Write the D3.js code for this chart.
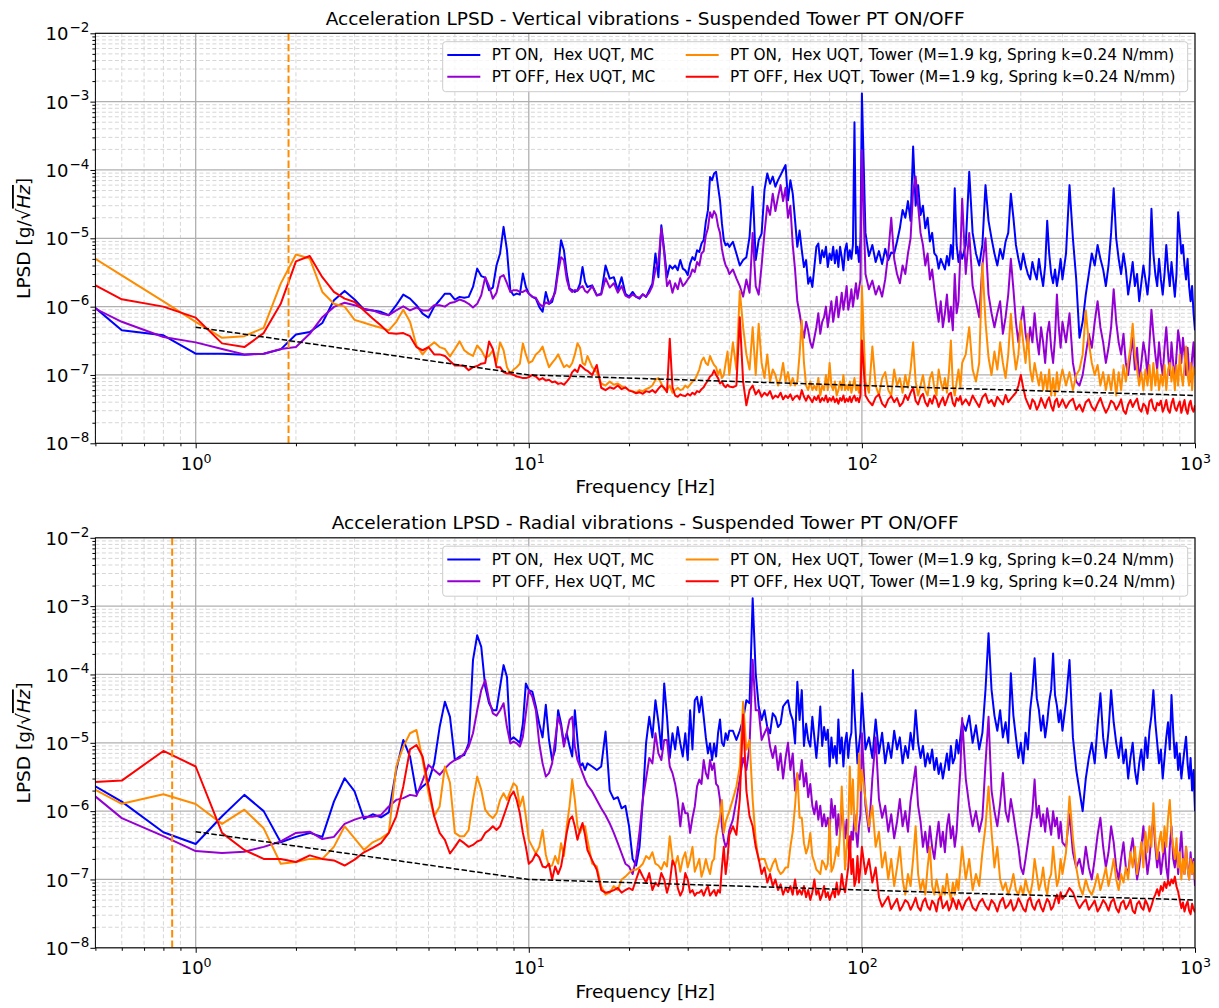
<!DOCTYPE html>
<html lang="en">
<head>
<meta charset="UTF-8">
<title>Acceleration LPSD - Suspended Tower PT ON/OFF</title>
<script src="https://d3js.org/d3.v7.min.js"></script>
<style>
  body { margin: 0; background: #fff; }
  text { font-family: "DejaVu Sans", sans-serif; }
</style>
</head>
<body>
<svg id="chart" width="1219" height="1008"></svg>
<script>
// Frequency grid of the spectra: block i starts at segStart[i] Hz with spacing segStep[i] Hz
const segStart = [0.4, 10.25, 15.5, 41, 102.5, 205, 410];
const segStep  = [0.2, 0.25, 0.5, 1, 2.5, 5, 10];

// LPSD values in ug/sqrt(Hz) (x1e-6 g/sqrt(Hz)), one sub-array per frequency block
// --- Vertical vibrations ---
const vertOnMC = [
  [2.4,0.45,0.38,0.205, 0.205,0.198,0.205,0.237,0.39, 0.425,0.575,1.24,1.7,1.27, 0.91,0.88,0.84,0.75,1.05, 1.5,1.31,1.05,0.79,0.69, 1.0,1.24,1.55,1.55,1.27, 1.39,1.35,1.39,1.94,3.6, 2.8,2.66,1.74,1.9,4.0, 6.0,14.7,6.7,1.74,1.47, 1.55,1.5,3.05,1.94,1.55],
  [1.39,1.31,0.99,0.84,1.64, 1.1,1.17,1.74,3.8,9.4, 6.7,3.05,1.84,1.74,1.64, 1.74,2.17,3.8,2.3,1.94],
  [2.05,1.47,1.55,4.0,2.57, 2.7,1.74,2.7,1.55,1.39, 1.64,1.39,1.31,1.52,1.39, 1.74,2.17,6.0,2.7,15.5, 6.7,2.7,4.0,3.6,4.0, 3.4,4.8,3.6,3.4,2.9, 4.3,5.3,4.8,6.7,6.3, 8.4,9.4,17.4,25.8,79, 71,89,94,57,36, 16.5,9.4,7.9,8.4,7.5],
  [8.9,6.0,4.0,4.8,5.3, 10.5,57,4.8,9.4,11.7, 51,89,63,80,57, 71,84,100,118,36, 71,45,18.5,7.5,13, 6.7,3.8,4.8,2.17,2.7, 1.94,3.8,7.5,8.4,4.3, 6.7,5.3,7.5,3.8,6.0, 4.8,7.5,4.3,6.7,3.8, 7.5,5.3,3.4,6.7,8.4, 4.8,6.7,5.0,8.0,500, 6.0,7.5,4.5,9,1320],
  [12,5.5,8,4.5,6.5, 4.2,7,4.8,6.2,6, 9,14,26,20,35, 18,220,30,60,22, 30,14,20,9,12, 6,5.5,3.6,5,4.2, 3.5,5.5,4,8,5, 54,8,4.5,6.5,5],
  [8,94,12,6,4, 8,60,18,10,6, 4,7,5,9,12, 45,20,8,5,3.5, 6,4,3,2.5,4.5, 3.2,2.5,5,3,2, 4,18,6,3,2.2, 3.5,2,3,5,2.5],
  [6,60,10,2.5,0.35, 0.6,1.5,3,6,4, 8,5,3.5,2,4, 12,54,10,5,3, 6,3.5,1.5,2.5,4.5, 2,3,1.2,2.2,4, 2.5,1.5,3,27,6, 3,2,5,2.5,1.5, 3,8,3.5,2,4.5, 2.5,1.4,3,24,12, 6,8,4,2.5,5, 2,1.2,2,0.8,0.45]
];
const vertOffMC = [
  [1.6,0.6,0.36,0.3, 0.24,0.2,0.205,0.24,0.256, 0.4,0.7,0.99,1.14,1.05, 0.93,0.88,0.79,0.75,0.88, 1.01,0.88,0.97,0.88,0.88, 1.05,1.05,1.0,1.13,1.17, 1.27,1.2,1.1,0.97,1.1, 1.47,2.7,2.0,1.31,1.6, 2.7,2.9,2.2,1.64,1.74, 1.74,1.64,1.64,1.74,1.55],
  [1.39,1.35,1.1,1.0,1.15, 1.1,1.3,1.6,3.2,5.3, 4.8,2.5,1.8,1.64,1.75, 1.7,1.9,2.0,1.7,1.6],
  [2.0,1.45,1.5,2.6,1.9, 2.2,1.6,2.0,1.45,1.35, 1.5,1.4,1.35,1.5,1.4, 1.6,2.0,3.5,4.5,14, 6,2.0,2.4,1.6,2.2, 1.8,2.6,2.0,2.2,2.5, 2.8,3.5,3.2,4.5,4.0, 6.0,6.5,11,14,24, 20,25,22,15,12, 7,5,4,3.6,3.0],
  [3.5,2.6,2.0,1.4,2.5, 1.6,12,2.0,1.5,4.0, 12,30,22,45,25, 40,60,35,55,20, 30,8,3.5,1.2,0.8, 0.5,0.35,0.6,0.45,0.3, 0.25,0.35,0.5,0.8,0.4, 0.6,0.7,1.0,0.5,0.8, 1.2,0.6,0.9,1.4,0.7, 1.0,1.6,0.9,1.3,2.0, 0.9,1.2,1.8,1.0,1.5, 2.2,1.3,1.8,2.5,195],
  [3.0,1.8,2.4,1.5,2.0, 1.4,2.5,6,20,5, 3,2.2,4,3,6, 10,50,80,30,12, 8,4,6,2.5,3.5, 1.8,1.0,0.6,1.2,0.5, 0.8,1.5,0.6,1.0,0.45, 3,0.8,1.2,6,38],
  [3,12,2,1.2,0.7, 4,10,1.5,0.8,0.5, 0.8,1.2,0.4,0.7,1.5, 5,1.8,0.6,0.3,0.6, 1.0,0.4,0.25,0.5,0.3, 0.8,0.35,0.2,0.5,0.3, 0.15,0.4,0.6,0.25,0.15, 0.35,1.5,0.5,0.25,0.6],
  [0.3,0.8,0.15,0.08,0.07, 0.1,0.2,0.4,0.25,0.6, 1.2,0.5,0.3,0.15,0.25, 0.5,1.8,0.6,0.3,0.2, 0.4,0.15,0.1,0.2,0.35, 0.12,0.25,0.08,0.15,0.3, 0.2,0.1,0.3,0.9,0.4, 0.2,0.12,0.3,0.15,0.1, 0.25,0.5,0.2,0.1,0.3, 0.15,0.08,0.2,0.45,0.3, 0.15,0.35,0.2,0.1,0.25, 0.12,0.08,0.18,0.3,0.1]
];
const vertOnTower = [
  [9.9,2.87,1.19,0.6, 0.35,0.37,0.49,2.17,5.8, 5.06,1.64,1.1,1.0,0.64, 0.58,0.53,0.49,0.45,0.6, 0.9,0.6,0.27,0.2,0.256, 0.3,0.256,0.24,0.187,0.24, 0.31,0.23,0.205,0.19,0.27, 0.23,0.18,0.19,0.23,0.15, 0.3,0.23,0.13,0.105,0.12, 0.13,0.146,0.29,0.2,0.15],
  [0.16,0.2,0.22,0.26,0.18, 0.13,0.15,0.17,0.2,0.16, 0.13,0.14,0.13,0.15,0.2, 0.29,0.25,0.15,0.14,0.19],
  [0.13,0.11,0.075,0.07,0.08, 0.072,0.075,0.068,0.065,0.06, 0.058,0.055,0.06,0.058,0.062, 0.065,0.07,0.085,0.09,0.075, 0.062,0.06,0.07,0.055,0.06, 0.065,0.06,0.062,0.07,0.065, 0.072,0.08,0.085,0.1,0.12, 0.16,0.18,0.15,0.14,0.19, 0.16,0.14,0.13,0.1,0.12, 0.09,0.1,0.15,0.22,0.1],
  [0.3,0.12,1.7,0.5,0.2, 0.12,0.5,0.1,0.56,0.15, 0.09,0.2,0.08,0.12,0.1, 0.07,0.09,0.15,0.08,0.11, 0.07,0.09,0.07,0.08,0.2, 0.63,0.15,0.07,0.06,0.08, 0.06,0.07,0.06,0.09,0.05, 0.07,0.06,0.1,0.06,0.15, 0.07,0.06,0.08,0.05,0.06, 0.08,0.06,0.1,0.06,0.07, 0.06,0.08,0.055,0.07,0.09, 0.06,0.07,0.055,0.08,2.0],
  [0.08,0.055,0.26,0.07,0.05, 0.09,0.11,0.06,0.05,0.12, 0.07,0.09,0.055,0.1,0.065, 0.12,0.3,0.08,0.05,0.07, 0.1,0.06,0.05,0.09,0.11, 0.065,0.05,0.12,0.08,0.06, 0.09,0.055,0.11,0.32,0.07, 0.05,0.08,0.12,0.065,0.15],
  [0.2,0.5,0.12,0.08,0.15, 4.3,0.6,0.18,0.1,0.22, 0.12,0.3,0.15,0.09,0.2, 0.79,0.25,0.12,0.2,0.63, 0.3,0.15,0.4,0.12,0.08, 0.15,0.1,0.07,0.11,0.06, 0.1,0.06,0.12,0.05,0.09, 0.05,0.11,0.06,0.09,0.12],
  [0.07,0.11,0.06,0.1,0.12, 0.2,0.88,0.3,0.15,0.1, 0.14,0.07,0.11,0.06,0.1, 0.06,0.12,0.05,0.11,0.06, 0.14,0.08,0.15,0.25,0.56, 0.2,0.12,0.07,0.11,0.06, 0.12,0.07,0.14,0.06,0.15, 0.07,0.12,0.06,0.1,0.07, 0.14,0.06,0.12,0.15,0.08, 0.13,0.06,0.14,0.07,0.2, 0.1,0.07,0.14,0.26,0.1, 0.07,0.15,0.06,0.13,0.1]
];
const vertOffTower = [
  [3.65,1.28,1.0,0.69, 0.29,0.256,0.41,1.1,4.6, 5.5,2.7,1.64,1.31,1.17, 0.88,0.67,0.53,0.41,0.4, 0.41,0.37,0.256,0.23,0.256, 0.2,0.2,0.19,0.16,0.138, 0.138,0.135,0.117,0.13,0.135, 0.146,0.15,0.31,0.24,0.13, 0.13,0.11,0.105,0.105,0.1, 0.095,0.093,0.09,0.09,0.093],
  [0.1,0.095,0.085,0.09,0.083, 0.085,0.078,0.08,0.074,0.076, 0.072,0.08,0.09,0.11,0.12, 0.11,0.14,0.13,0.12,0.115],
  [0.1,0.14,0.065,0.06,0.066, 0.063,0.07,0.062,0.066,0.059, 0.057,0.054,0.056,0.053,0.058, 0.056,0.06,0.055,0.063,0.07, 0.065,0.056,0.34,0.066,0.05, 0.048,0.052,0.05,0.049,0.053, 0.05,0.055,0.052,0.058,0.056, 0.062,0.066,0.075,0.083,0.095, 0.1,0.117,0.1,0.09,0.075, 0.08,0.07,0.066,0.072,0.068],
  [0.066,0.07,0.7,0.08,0.036, 0.06,0.07,0.052,0.06,0.048, 0.055,0.05,0.058,0.045,0.05, 0.047,0.055,0.044,0.05,0.046, 0.052,0.043,0.048,0.05,0.044, 0.06,0.048,0.042,0.05,0.045, 0.04,0.048,0.043,0.05,0.04, 0.046,0.042,0.05,0.04,0.046, 0.042,0.048,0.04,0.045,0.038, 0.046,0.042,0.05,0.04,0.045, 0.041,0.048,0.04,0.046,0.05, 0.042,0.046,0.04,0.05,0.32],
  [0.05,0.041,0.036,0.047,0.052, 0.038,0.034,0.044,0.049,0.04, 0.046,0.035,0.039,0.051,0.043, 0.055,0.065,0.042,0.037,0.048, 0.053,0.04,0.035,0.045,0.038, 0.05,0.044,0.034,0.041,0.047, 0.036,0.043,0.052,0.055,0.039, 0.035,0.046,0.042,0.049,0.037],
  [0.044,0.036,0.05,0.041,0.034, 0.047,0.053,0.039,0.043,0.035, 0.048,0.042,0.037,0.051,0.04, 0.045,0.05,0.055,0.07,0.1, 0.065,0.046,0.038,0.032,0.044, 0.04,0.031,0.036,0.046,0.039, 0.033,0.042,0.047,0.035,0.03, 0.041,0.045,0.034,0.038,0.044],
  [0.033,0.041,0.045,0.031,0.037, 0.029,0.04,0.044,0.034,0.03, 0.038,0.046,0.035,0.028,0.033, 0.042,0.039,0.031,0.036,0.044, 0.03,0.027,0.037,0.043,0.034, 0.04,0.045,0.032,0.029,0.038, 0.035,0.027,0.041,0.044,0.033, 0.03,0.039,0.036,0.042,0.029, 0.034,0.043,0.031,0.028,0.038, 0.045,0.033,0.03,0.036,0.041, 0.028,0.035,0.043,0.031,0.027, 0.037,0.042,0.032,0.029,0.036]
];

// --- Radial vibrations ---
const radOnMC = [
  [4.3,1.38,0.49,0.33, 0.84,1.73,1.0,0.35,0.42, 0.48,0.42,1.38,3.03,1.94, 0.77,0.9,0.81,0.96,4.0, 11,6.3,1.83,2.3,2.7, 5.0,17,40,24,5.6, 6.3,6.6,9.8,162,375, 254,66,38,30,30, 66,137,92,11,12, 11,10,19,74,59],
  [56,34,19,12,36, 11,5.6,7.9,30,19, 9.8,13.8,9,6.3,30, 11,4.5,5.0,4.0,5.0],
  [4.5,4.0,4.5,14.6,2.0, 1.5,1.6,1.1,1.2,0.6, 0.2,0.16,0.3,1.5,10, 24,12,42,20,8, 74,24,6,13.8,8, 17,9.8,6.3,13.8,5.6, 30,8,42,47,28, 47,24,12,7,9.8, 5.6,9.8,6.3,13.8,22, 10,9,13.8,11,15],
  [15,11,15,22,42, 38,1300,104,34,21.6, 30,17,13.8,27,24, 17,19,34,38,42, 27,21.6,9.8,78,21.6, 59,9,19,11,8.8, 24,12,6,13,34, 9,17,11,15.5,4.5, 12,6,9,5,22, 7,12,4.5,10,14, 6,11,14,116,30, 12,5,9,14,53],
  [8,12,6,22,7, 14,5,10,6,15, 8,12,5,9,6, 14,8,30,10,6, 9,4.5,7,5,8, 4,6,3.5,5,3, 4.5,7,4,9,5, 6,11,7,12,20],
  [15,25,10,18,8, 14,60,400,60,25, 15,30,12,20,10, 104,25,12,6,10, 5,14,8,30,60, 172,45,30,15,25, 12,20,40,60,203, 50,35,20,30,15],
  [40,163,12,4,2.0, 1.0,3,6,10,5, 18,53,12,6,15, 59,20,10,6,12, 5,8,3,6,10, 4,2.5,5,8,4, 12,6,15,25,59, 20,10,5,8,3, 6,12,20,8,50, 15,6,10,4,7, 3,5,8,12.3,5, 3,6,2,4,1.0]
];
const radOffMC = [
  [4.0,0.79,0.43,0.26, 0.243,0.255,0.3,0.36,0.48, 0.5,0.39,0.42,0.65,0.75, 0.83,0.83,0.88,1.17,1.46, 1.55,1.73,1.67,2.8,4.75, 4.0,3.4,4.2,5.0,5.6, 6.0,7.0,8.8,13.8,30, 59,83,42,27,25, 30,38,17,9.8,10.4, 9.8,8.8,12.3,27,59],
  [47,30,9.8,5.0,3.2, 3.6,5.0,11,24,17, 8.8,13.8,21.6,24,8.8, 5.6,4.5,3.6,2.9,2.4],
  [1.94,1.46,1.1,0.87,0.66, 0.48,0.34,0.24,0.17,0.155, 0.12,0.2,0.5,1.5,3, 6,5,13.8,7,5.6, 11,11,4.5,3.6,2.5, 1.46,0.6,1.3,0.93,0.93, 0.48,0.8,1.17,2.3,2.9, 2.5,5.6,3.6,3.0,5.6, 4.0,5.0,2.5,2.3,1.46, 0.6,0.38,0.3,0.35,0.53],
  [0.75,1.46,3,6,4, 9,164,30,30,11, 13.8,17,8.8,6,9, 4,7,3,6,10, 4,7,2,3.5,2.9, 5.6,2.3,3.6,1.6,2.5, 1.2,0.9,1.4,0.75,1.2, 0.6,0.9,0.6,0.8,0.5, 1.5,0.8,1.2,0.45,0.9, 0.5,1.2,0.7,0.4,0.75, 0.3,0.24,0.5,0.38,0.9, 0.5,0.3,0.6,0.9,13.8],
  [1.2,0.5,3,12,1.5, 0.8,1.2,0.5,0.9,0.4, 0.7,1.5,0.6,1.0,0.5, 1.4,2.5,4.5,1.2,0.7, 0.3,0.5,0.25,0.6,0.3, 0.2,0.4,0.7,0.3,0.5, 0.25,0.6,0.9,0.4,0.6, 0.3,0.5,1.5,4,23],
  [3,1.2,0.6,1.0,0.5, 0.8,5,24,2,1.0, 0.6,1.3,3.6,1.0,0.7, 1.5,0.9,0.5,0.3,0.15, 0.12,0.2,0.35,0.6,1.0, 2.9,0.8,1.2,0.6,0.9, 0.5,1.1,0.7,0.45,1.0, 0.6,0.8,0.4,0.7,0.35],
  [0.3,0.9,0.25,0.15,0.2, 0.12,0.3,0.15,0.1,0.2, 0.45,0.8,0.3,0.15,0.25, 0.6,0.35,0.15,0.1,0.2, 0.35,0.15,0.12,0.25,0.4, 0.2,0.1,0.15,0.3,0.6, 0.25,0.12,0.2,0.45,0.8, 0.3,0.15,0.25,0.12,0.2, 0.35,0.15,0.1,0.3,0.6, 0.2,0.15,0.3,0.12,0.25, 0.5,0.2,0.12,0.3,0.15, 0.1,0.25,0.12,0.2,0.08]
];
const radOnTower = [
  [3.65,1.28,1.77,1.27, 0.65,1.05,0.56,0.17,0.18, 0.2,0.2,0.3,0.6,0.4, 0.27,0.35,0.4,0.48,4.5, 8.8,13.8,15.4,5.6,1.83, 0.84,1.17,4.5,2.6,0.48, 0.43,0.43,0.53,1.46,3.2, 2.05,1.05,0.88,0.79,0.93, 1.46,1.83,1.46,1.94,2.56, 2.3,1.17,1.64,0.84,0.38],
  [0.3,0.24,0.3,0.53,0.23, 0.155,0.16,0.22,0.17,0.34, 0.22,0.6,1.17,2.9,1.46, 0.6,0.48,0.6,0.6,0.38],
  [0.17,0.155,0.08,0.06,0.064, 0.08,0.07,0.1,0.11,0.124, 0.139,0.139,0.15,0.17,0.22, 0.2,0.25,0.17,0.16,0.14, 0.18,0.155,0.43,0.2,0.16, 0.22,0.13,0.2,0.25,0.15, 0.2,0.3,0.13,0.16,0.2, 0.11,0.14,0.2,0.15,0.12, 0.18,0.2,0.43,0.6,0.84, 1.46,0.48,0.7,0.84,1.0],
  [1.5,2.3,4.5,40,7.9, 11,1.46,0.38,0.19,0.2, 0.2,0.15,0.13,0.17,0.2, 0.14,0.12,0.13,0.15,0.15, 0.3,0.5,1.2,3.6,0.8, 0.8,0.34,0.24,0.3,0.48, 0.22,0.18,0.14,0.13,0.12, 0.19,0.17,0.14,0.17,0.75, 0.13,0.15,0.2,0.3,0.22, 0.48,2.3,0.6,0.14,0.3, 0.6,4.5,0.9,2.9,0.7, 0.5,1.2,7.0,2.0,4.0],
  [1.5,0.6,1.2,0.3,0.5, 0.15,0.25,0.1,0.2,0.08, 0.15,0.3,0.1,0.06,0.12, 0.08,0.2,0.6,0.12,0.07, 0.1,0.06,0.15,0.3,0.08, 0.06,0.1,0.07,0.05,0.08, 0.06,0.12,0.07,0.05,0.09, 0.06,0.1,0.07,0.15,0.3],
  [0.1,0.2,0.07,0.12,0.08, 0.25,0.6,2.3,0.5,0.15, 0.3,0.1,0.07,0.09,0.06, 0.08,0.12,0.07,0.06,0.08, 0.06,0.1,0.07,0.06,0.09, 0.2,0.12,0.07,0.09,0.15, 0.08,0.06,0.1,0.12,0.3, 0.15,0.08,0.1,0.2,0.12],
  [0.25,1.64,0.4,0.15,0.08, 0.06,0.1,0.07,0.06,0.08, 0.12,0.07,0.1,0.15,0.08, 0.12,0.2,0.1,0.07,0.12, 0.09,0.15,0.1,0.25,0.15, 0.3,0.12,0.2,0.35,0.15, 0.5,0.25,0.6,0.3,1.3, 0.4,0.2,0.35,0.5,0.25, 0.6,0.3,0.8,1.46,0.5, 0.3,0.2,0.4,0.15,0.25, 0.1,0.2,0.12,0.3,0.15, 0.1,0.2,0.12,0.18,0.1]
];
const radOffTower = [
  [2.5,2.8,7.6,4.5, 0.48,0.27,0.2,0.2,0.18, 0.225,0.2,0.19,0.16,0.195, 0.25,0.29,0.34,0.48,0.84, 2.3,8.0,9.3,6.3,2.3, 0.84,0.48,0.38,0.24,0.3, 0.38,0.34,0.3,0.32,0.36, 0.38,0.48,0.53,0.6,0.53, 0.6,0.84,1.17,1.64,1.94, 1.46,0.93,0.48,0.3,0.17],
  [0.19,0.24,0.21,0.155,0.15, 0.17,0.1,0.155,0.12,0.155, 0.27,0.48,0.75,0.84,0.6, 0.38,0.53,0.67,0.45,0.27],
  [0.19,0.139,0.07,0.064,0.066, 0.07,0.075,0.064,0.07,0.075, 0.07,0.1,0.139,0.11,0.09, 0.124,0.07,0.09,0.08,0.124, 0.1,0.064,0.09,0.19,0.155, 0.075,0.058,0.07,0.124,0.1, 0.064,0.07,0.058,0.064,0.064, 0.07,0.058,0.07,0.08,0.058, 0.064,0.07,0.058,0.07,0.064, 0.15,0.3,0.12,0.2,0.45],
  [0.6,0.45,1.5,26,2.0, 0.84,0.6,0.3,0.2,0.12, 0.15,0.09,0.12,0.08,0.1, 0.07,0.085,0.06,0.075,0.065, 0.08,0.06,0.1,0.06,0.07, 0.06,0.08,0.055,0.07,0.05, 0.065,0.1,0.06,0.07,0.05, 0.06,0.08,0.055,0.065,0.05, 0.06,0.07,0.055,0.09,0.06, 0.07,0.12,0.08,0.065,0.1, 0.15,0.43,0.12,0.2,0.08, 0.1,0.22,0.09,0.15,0.3],
  [0.12,0.2,0.09,0.15,0.055, 0.04,0.048,0.056,0.037,0.044, 0.052,0.035,0.041,0.05,0.046, 0.036,0.043,0.054,0.039,0.035, 0.047,0.053,0.04,0.036,0.049, 0.044,0.034,0.051,0.056,0.038, 0.042,0.048,0.035,0.04,0.053, 0.045,0.037,0.05,0.043,0.036],
  [0.048,0.055,0.039,0.035,0.046, 0.052,0.041,0.036,0.05,0.044, 0.034,0.047,0.054,0.038,0.042, 0.05,0.035,0.04,0.053,0.045, 0.037,0.034,0.049,0.055,0.041, 0.036,0.046,0.051,0.039,0.034, 0.043,0.052,0.047,0.036,0.04, 0.05,0.06,0.045,0.065,0.052],
  [0.06,0.075,0.065,0.048,0.038, 0.045,0.051,0.036,0.042,0.049, 0.034,0.04,0.05,0.044,0.035, 0.047,0.052,0.038,0.033,0.045, 0.049,0.037,0.042,0.051,0.035, 0.032,0.044,0.048,0.039,0.036, 0.05,0.043,0.034,0.041,0.052, 0.06,0.072,0.058,0.08,0.068, 0.092,0.075,0.097,0.082,0.1, 0.088,0.11,0.079,0.066,0.05, 0.038,0.046,0.034,0.042,0.048, 0.035,0.031,0.044,0.037,0.033]
];

// noise floor reference (dashed black), ug/sqrt(Hz)
const floorFreq = [1, 10, 100, 1000];
const floorLPSD = [0.5, 0.1, 0.07, 0.05];

// suspension resonance frequency (dashed orange), Hz
const vertRes = 1.9;
const radRes = 0.85;

const seriesNames = [
  "PT ON,  Hex UQT, MC",
  "PT OFF, Hex UQT, MC",
  "PT ON,  Hex UQT, Tower (M=1.9 kg, Spring k=0.24 N/mm)",
  "PT OFF, Hex UQT, Tower (M=1.9 kg, Spring k=0.24 N/mm)"
];
const seriesColors = ["#0000ff", "#9400d3", "#ff8c00", "#ff0000"];
const titles = [
  "Acceleration LPSD - Vertical vibrations - Suspended Tower PT ON/OFF",
  "Acceleration LPSD - Radial vibrations - Suspended Tower PT ON/OFF"
];

const svg = d3.select("#chart");
const left = 95.4, right = 1195, plotH = 410;

function toPoints(blocks) {
  const pts = [];
  blocks.forEach((vals, i) => {
    vals.forEach((v, j) => pts.push([+(segStart[i] + j * segStep[i]).toFixed(3), v * 1e-6]));
  });
  return pts;
}

const isDecade = t => Math.abs(Math.log10(t) - Math.round(Math.log10(t))) < 1e-6;
const supText = e => (e < 0 ? "\u2212" + (-e) : "" + e);

function drawPanel(top, title, blocksList, res, idx) {
  const bottom = top + plotH;
  const x = d3.scaleLog().domain([0.5, 1000]).range([left, right]);
  const y = d3.scaleLog().domain([1e-8, 1e-2]).range([bottom, top]);

  const xAll = x.ticks(), yAll = y.ticks();
  const xMajor = xAll.filter(isDecade), xMinor = xAll.filter(t => !isDecade(t));
  const yMajor = yAll.filter(isDecade), yMinor = yAll.filter(t => !isDecade(t));

  const clipId = "clip" + idx;
  svg.append("clipPath").attr("id", clipId)
    .append("rect").attr("x", left).attr("y", top).attr("width", right - left).attr("height", plotH);

  // grid
  const grid = svg.append("g");
  grid.selectAll(".gxm").data(xMinor).enter().append("line")
    .attr("x1", d => x(d)).attr("x2", d => x(d)).attr("y1", top).attr("y2", bottom)
    .attr("stroke", "#d6d6d6").attr("stroke-width", 1).attr("stroke-dasharray", "4,2.5");
  grid.selectAll(".gym").data(yMinor).enter().append("line")
    .attr("x1", left).attr("x2", right).attr("y1", d => y(d)).attr("y2", d => y(d))
    .attr("stroke", "#d6d6d6").attr("stroke-width", 1).attr("stroke-dasharray", "4,2.5");
  grid.selectAll(".gxM").data(xMajor).enter().append("line")
    .attr("x1", d => x(d)).attr("x2", d => x(d)).attr("y1", top).attr("y2", bottom)
    .attr("stroke", "#b0b0b0").attr("stroke-width", 1.3);
  grid.selectAll(".gyM").data(yMajor).enter().append("line")
    .attr("x1", left).attr("x2", right).attr("y1", d => y(d)).attr("y2", d => y(d))
    .attr("stroke", "#b0b0b0").attr("stroke-width", 1.3);

  // spectra
  const line = d3.line().x(d => x(d[0])).y(d => y(d[1]));
  const plot = svg.append("g").attr("clip-path", "url(#" + clipId + ")");
  blocksList.forEach((blocks, i) => {
    plot.append("path")
      .datum(toPoints(blocks))
      .attr("d", line)
      .attr("fill", "none")
      .attr("stroke", seriesColors[i])
      .attr("stroke-width", 2)
      .attr("stroke-linejoin", "round");
  });

  // noise floor
  plot.append("path")
    .datum(floorFreq.map((f, i) => [f, floorLPSD[i] * 1e-6]))
    .attr("d", line)
    .attr("fill", "none")
    .attr("stroke", "#000")
    .attr("stroke-width", 1.5)
    .attr("stroke-dasharray", "5.5,2.4");

  // resonance line
  plot.append("line")
    .attr("x1", x(res)).attr("x2", x(res)).attr("y1", top).attr("y2", bottom)
    .attr("stroke", "#ff8c00").attr("stroke-width", 2).attr("stroke-dasharray", "7.4,3.2");

  // frame
  svg.append("rect").attr("x", left).attr("y", top).attr("width", right - left).attr("height", plotH)
    .attr("fill", "none").attr("stroke", "#000").attr("stroke-width", 1);

  // x axis
  const gx = svg.append("g").attr("transform", `translate(0,${bottom})`)
    .call(d3.axisBottom(x).tickValues(xMajor).tickSize(5).tickFormat(() => ""));
  gx.select(".domain").remove();
  gx.selectAll(".tick text")
    .attr("y", 26.5).attr("dy", null).attr("font-size", 18).attr("fill", "#000")
    .each(function (d) {
      const t = d3.select(this);
      t.append("tspan").text("10");
      t.append("tspan").attr("dy", -7).attr("font-size", 12.6).text(supText(Math.round(Math.log10(d))));
    });
  const gxm = svg.append("g").attr("transform", `translate(0,${bottom})`)
    .call(d3.axisBottom(x).tickValues(xMinor).tickSize(3).tickFormat(""));
  gxm.select(".domain").remove();

  // y axis
  const gy = svg.append("g").attr("transform", `translate(${left},0)`)
    .call(d3.axisLeft(y).tickValues(yMajor).tickSize(5).tickFormat(() => ""));
  gy.select(".domain").remove();
  gy.selectAll(".tick text")
    .attr("x", -6).attr("y", 6.6).attr("dy", null).attr("font-size", 18).attr("fill", "#000")
    .each(function (d) {
      const t = d3.select(this);
      t.append("tspan").text("10");
      t.append("tspan").attr("dx", 1).attr("dy", -8.3).attr("font-size", 13.5).text(supText(Math.round(Math.log10(d))));
    });
  const gym = svg.append("g").attr("transform", `translate(${left},0)`)
    .call(d3.axisLeft(y).tickValues(yMinor).tickSize(3).tickFormat(""));
  gym.select(".domain").remove();

  // title and axis labels
  svg.append("text").attr("x", (left + right) / 2).attr("y", top - 8.5)
    .attr("text-anchor", "middle").attr("font-size", 18.5).text(title);
  svg.append("text").attr("x", (left + right) / 2).attr("y", bottom + 50)
    .attr("text-anchor", "middle").attr("font-size", 18.5).text("Frequency [Hz]");
  const yl = svg.append("text")
    .attr("transform", `translate(30,${(top + bottom) / 2}) rotate(-90)`)
    .attr("text-anchor", "middle").attr("font-size", 18.5);
  yl.append("tspan").text("LPSD [g/\u221A");
  yl.append("tspan").attr("font-style", "italic").style("text-decoration", "overline").text("Hz");
  yl.append("tspan").text("]");

  // legend
  const lg = svg.append("g");
  lg.append("rect").attr("x", 442.7).attr("y", top + 8.4).attr("width", 745).attr("height", 50)
    .attr("rx", 3).attr("fill", "#fff").attr("fill-opacity", 0.8).attr("stroke", "#cccccc");
  const colX = [447.3, 685.7];
  seriesNames.forEach((name, i) => {
    const cx = colX[Math.floor(i / 2)];
    const cy = top + 21.7 + (i % 2) * 21.7;
    lg.append("line").attr("x1", cx).attr("x2", cx + 33).attr("y1", cy).attr("y2", cy)
      .attr("stroke", seriesColors[i]).attr("stroke-width", 2);
    lg.append("text").attr("x", cx + 44.4).attr("y", cy + 5.4)
      .attr("font-size", 15.3).style("white-space", "pre").text(name);
  });
}

drawPanel(33.3, titles[0], [vertOnMC, vertOffMC, vertOnTower, vertOffTower], vertRes, 0);
drawPanel(537.8, titles[1], [radOnMC, radOffMC, radOnTower, radOffTower], radRes, 1);
</script>
</body>
</html>
